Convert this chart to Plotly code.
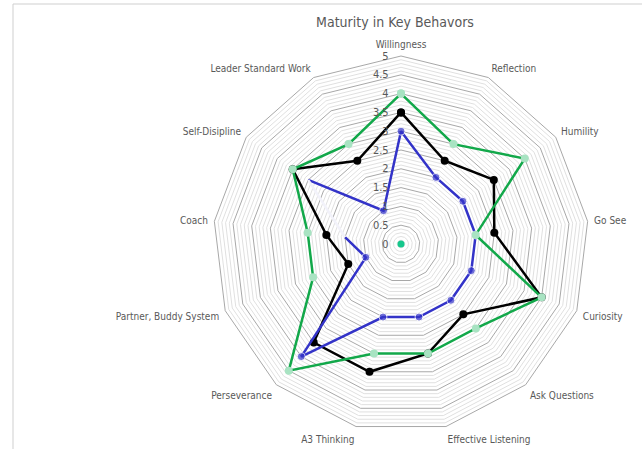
import plotly.graph_objects as go

categories = ["Willingness", "Reflection", "Humility", "Go See", "Curiosity",
              "Ask Questions", "Effective Listening", "A3 Thinking", "Perseverance",
              "Partner, Buddy System", "Coach", "Self-Disipline", "Leader Standard Work"]
green_vals = [4, 3, 4, 2, 4, 3, 3, 3, 4.5, 2.5, 2.5, 3.5, 3]
black_vals = [3.5, 2.5, 3, 2.5, 4, 2.5, 3, 3.5, 3.5, 1.5, 2, 3.5, 2.5]
blue_vals = [3, 2, 2, 2, 2, 2, 2, 2, 4, 1, 1.5, 3, 1]
center_vals = [0.001]
tick_vals = [0, 0.5, 1, 1.5, 2, 2.5, 3, 3.5, 4, 4.5, 5]
tick_text = ["0", "0.5", "1", "1.5", "2", "2.5", "3", "3.5", "4", "4.5", "5"]

FONT = "Liberation Sans Narrow, DejaVu Sans Condensed, Roboto, sans-serif"
GRAY_TXT = "#595959"

fig = go.Figure()

# minor grid rings (every 0.1)
for i in range(1, 50):
    if i % 5 == 0:
        continue
    v = i / 10
    fig.add_trace(go.Scatterpolar(
        r=[v] * (len(categories) + 1), theta=categories + [categories[0]],
        mode="lines", line=dict(color="#e0e0e0", width=1),
        hoverinfo="skip", showlegend=False))

# black series
fig.add_trace(go.Scatterpolar(
    r=black_vals + [black_vals[0]], theta=categories + [categories[0]],
    mode="lines+markers", line=dict(color="#000000", width=2.5),
    marker=dict(color="#000000", size=8), showlegend=False))

# blue series: path starts at Self-Disipline, ends at Coach (segment Coach->Self-Disipline drawn pale)
order = [11, 12] + list(range(0, 11))
blue_r = [blue_vals[i] for i in order]
blue_t = [categories[i] for i in order]
blue_sizes = [0] + [8] * (len(order) - 2) + [0]
fig.add_trace(go.Scatterpolar(
    r=blue_r, theta=blue_t,
    mode="lines+markers", line=dict(color="#3333c8", width=2.5),
    marker=dict(color="#3333c8", size=blue_sizes), showlegend=False))
fig.add_trace(go.Scatterpolar(
    r=[blue_vals[10], blue_vals[11]], theta=[categories[10], categories[11]],
    mode="lines", line=dict(color="#f2f2fa", width=2.5),
    hoverinfo="skip", showlegend=False))

# green series
fig.add_trace(go.Scatterpolar(
    r=green_vals + [green_vals[0]], theta=categories + [categories[0]],
    mode="lines+markers", line=dict(color="#12a84a", width=2.5),
    marker=dict(color="#a8e3c2", size=8), showlegend=False))

# center dot
fig.add_trace(go.Scatterpolar(
    r=center_vals, theta=[categories[0]], mode="markers", cliponaxis=False,
    marker=dict(color="#16c78c", size=7), showlegend=False))

W, H = 642, 449
cx, cy, R = 401, 244, 188
fig.update_layout(
    width=W, height=H,
    margin=dict(l=0, r=0, t=0, b=0),
    paper_bgcolor="white",
    font=dict(family=FONT, color=GRAY_TXT),
    title=dict(text="Maturity in Key Behavors", x=395 / W, xanchor="center",
               y=1 - 22 / H, yanchor="middle", yref="container",
               font=dict(size=14, color=GRAY_TXT, family=FONT)),
    polar=dict(
        domain=dict(x=[(cx - R) / W, (cx + R) / W],
                    y=[(H - cy - R) / H, (H - cy + R) / H]),
        bgcolor="white",
        gridshape="linear",
        radialaxis=dict(range=[0, 5], tickvals=tick_vals, ticktext=tick_text,
                        angle=90, tickangle=90, side="counterclockwise",
                        showline=False, ticks="outside", ticklen=8,
                        tickcolor="rgba(0,0,0,0)",
                        gridcolor="#a8a8a8", gridwidth=1,
                        tickfont=dict(size=11, color=GRAY_TXT, family=FONT)),
        angularaxis=dict(direction="clockwise", rotation=90, showgrid=False,
                         linecolor="#a8a8a8", linewidth=1,
                         ticks="outside", ticklen=4, tickcolor="rgba(0,0,0,0)",
                         tickfont=dict(size=10, color=GRAY_TXT, family=FONT)),
    ),
    shapes=[dict(type="rect", xref="paper", yref="paper",
                 x0=13 / W, x1=1.05, y0=-0.05, y1=1 - 4 / H,
                 line=dict(color="#cfcfcf", width=1), fillcolor="rgba(0,0,0,0)",
                 layer="below")],
)

fig.write_html("out.html", config={"displayModeBar": False},
               post_script="document.body.style.margin='0px';")
